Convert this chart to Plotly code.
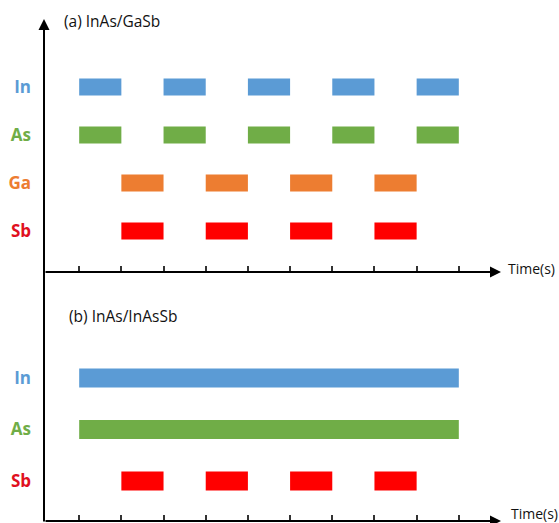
import plotly.graph_objects as go
from plotly.subplots import make_subplots

# ---- pulse sequences (time units) ----
# (a) InAs/GaSb: shutter openings, start time and duration
a_in_start = [1, 3, 5, 7, 9]
a_as_start = [1, 3, 5, 7, 9]
a_ga_start = [2, 4, 6, 8]
a_sb_start = [2, 4, 6, 8]
a_pulse_len = 1

# (b) InAs/InAsSb
b_in_start = [1]
b_in_len = [9]
b_as_start = [1]
b_as_len = [9]
b_sb_start = [2, 4, 6, 8]
b_sb_len = 1

time_ticks = [1, 2, 3, 4, 5, 6, 7, 8, 9, 10]

cats_a = ["Sb", "Ga", "As", "In"]
cats_b = ["Sb", "As", "In"]

bar_colors = {"In": "#5B9BD5", "As": "#70AD47", "Ga": "#ED7D31", "Sb": "#FF0000"}
label_colors = {"In": "#5B9BD5", "As": "#70AD47", "Ga": "#ED7D31", "Sb": "#E0101E"}

FONT = "Open Sans"

fig = make_subplots(rows=2, cols=1, vertical_spacing=0)


def add_pulses(starts, lengths, cat, row, width):
    if not isinstance(lengths, list):
        lengths = [lengths] * len(starts)
    fig.add_trace(
        go.Bar(
            y=[cat] * len(starts),
            x=lengths,
            base=starts,
            orientation="h",
            width=width,
            marker=dict(color=bar_colors[cat], line=dict(width=0)),
            showlegend=False,
            hoverinfo="skip",
        ),
        row=row,
        col=1,
    )


wa = 0.355
add_pulses(a_in_start, a_pulse_len, "In", 1, wa)
add_pulses(a_as_start, a_pulse_len, "As", 1, wa)
add_pulses(a_ga_start, a_pulse_len, "Ga", 1, wa)
add_pulses(a_sb_start, a_pulse_len, "Sb", 1, wa)

wb = 0.37
add_pulses(b_in_start, b_in_len, "In", 2, wb)
add_pulses(b_as_start, b_as_len, "As", 2, wb)
add_pulses(b_sb_start, b_sb_len, "Sb", 2, wb)

split = (521 - 272) / 521
x_range = [0.166, 11.0]

xcommon = dict(
    range=x_range,
    tickmode="array",
    tickvals=time_ticks,
    showticklabels=False,
    ticks="inside",
    ticklen=6,
    tickwidth=1.5,
    tickcolor="#333333",
    showgrid=False,
    zeroline=False,
    showline=False,
)
fig.update_xaxes(**xcommon, domain=[0, 1])


def ylabels(cats):
    return [f'<span style="color:{label_colors[c]}"><b>{c}</b></span>' for c in cats]


ycommon = dict(
    type="category",
    showgrid=False,
    zeroline=False,
    showline=False,
    ticks="",
    ticklabelstandoff=12,
    tickfont=dict(family=FONT, size=17),
)
fig.update_yaxes(
    **ycommon,
    categoryorder="array",
    categoryarray=cats_a,
    tickmode="array",
    tickvals=cats_a,
    ticktext=ylabels(cats_a),
    range=[-0.854, 4.81],
    domain=[split, 1],
    row=1,
    col=1,
)
fig.update_yaxes(
    **ycommon,
    categoryorder="array",
    categoryarray=cats_b,
    tickmode="array",
    tickvals=cats_b,
    ticktext=ylabels(cats_b),
    range=[-0.777, 4.06],
    domain=[0, split],
    row=2,
    col=1,
)

axis_arrow = dict(
    text="",
    showarrow=True,
    arrowhead=2,
    arrowsize=1.1,
    arrowwidth=2,
    arrowcolor="#000000",
    standoff=0,
    startstandoff=0,
)

annotations = [
    # vertical time-line axis spanning both panels
    dict(
        **axis_arrow,
        xref="paper",
        yref="paper",
        x=0,
        y=(521 - 19) / 521,
        ax=0,
        ay=504,
        axref="pixel",
        ayref="pixel",
    ),
    # time axis of panel (a)
    dict(**axis_arrow, xref="paper", yref="paper", x=1, y=split, ax=-457, ay=0),
    # time axis of panel (b)
    dict(**axis_arrow, xref="paper", yref="paper", x=1, y=0, ax=-457, ay=0),
    dict(
        text="Time(s)",
        showarrow=False,
        xref="paper",
        yref="paper",
        x=1,
        y=split,
        xanchor="left",
        yanchor="middle",
        xshift=5,
        yshift=4,
        font=dict(family=FONT, size=14, color="#111111"),
    ),
    dict(
        text="Time(s)",
        showarrow=False,
        xref="paper",
        yref="paper",
        x=1,
        y=0,
        xanchor="left",
        yanchor="middle",
        xshift=8,
        yshift=8,
        font=dict(family=FONT, size=14, color="#111111"),
    ),
    dict(
        text="(a) InAs/GaSb",
        showarrow=False,
        xref="paper",
        yref="paper",
        x=(62 - 44) / 457,
        y=(521 - 21) / 521,
        xanchor="left",
        yanchor="middle",
        font=dict(family=FONT, size=15.5, color="#111111"),
    ),
    dict(
        text="(b) InAs/InAsSb",
        showarrow=False,
        xref="paper",
        yref="paper",
        x=(67 - 44) / 457,
        y=(521 - 316) / 521,
        xanchor="left",
        yanchor="middle",
        font=dict(family=FONT, size=15.5, color="#111111"),
    ),
]

fig.update_layout(
    width=559,
    height=523,
    margin=dict(l=44, r=58, t=0, b=2),
    paper_bgcolor="white",
    plot_bgcolor="white",
    barmode="overlay",
    annotations=annotations,
    showlegend=False,
)

fig.write_html("out.html")
